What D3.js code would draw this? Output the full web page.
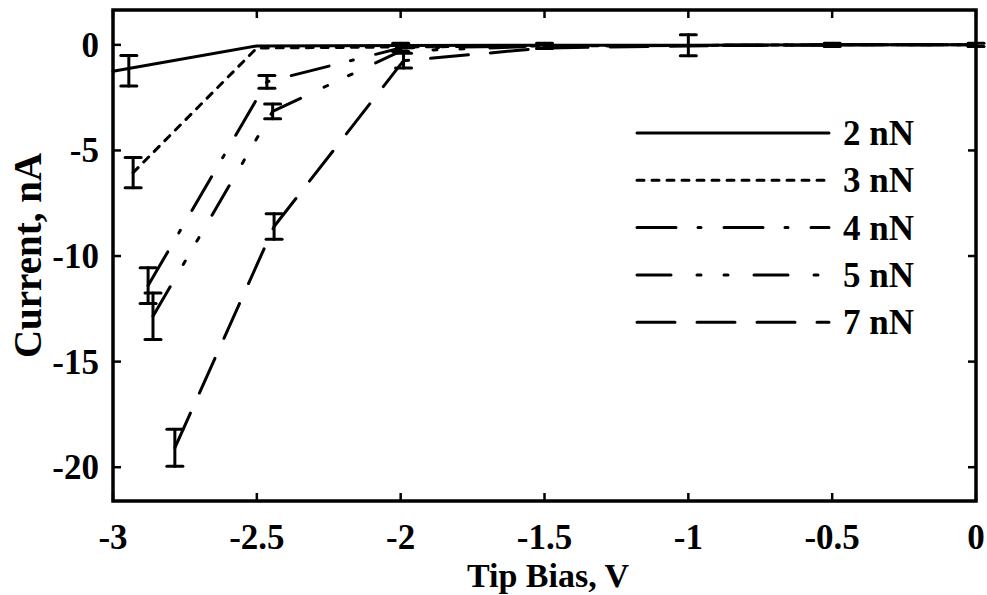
<!DOCTYPE html>
<html><head><meta charset="utf-8">
<script src="https://cdn.jsdelivr.net/npm/d3@7"></script>
<style>html,body{margin:0;padding:0;background:#fff;}svg{display:block;}</style>
</head><body>
<script>
// ---- data ----
const seriesNames = ["2 nN", "3 nN", "4 nN", "5 nN", "7 nN"];
const x2 = [-3.0, -2.5, -2.0, -1.5, -1.0, -0.5, 0.0];
const y2 = [-1.25, -0.05, -0.03, -0.02, -0.02, 0.0, 0.0];
const x3 = [-2.93, -2.5, -2.0, -1.5, -1.0, -0.5, 0.0];
const y3 = [-6.05, -0.15, -0.1, -0.05, -0.03, 0.0, 0.0];
const x4 = [-2.878, -2.465, -2.0, -1.5, -1.0, -0.5, 0.0];
const y4 = [-11.4, -1.75, -0.15, -0.05, -0.03, 0.0, 0.0];
const x5 = [-2.861, -2.445, -2.0, -1.5, -1.0, -0.5, 0.0];
const y5 = [-12.85, -3.15, -0.3, -0.05, -0.03, 0.0, 0.0];
const x7 = [-2.785, -2.44, -1.99, -1.5, -1.0, -0.5, 0.0];
const y7 = [-19.08, -8.6, -0.75, -0.15, -0.05, 0.0, 0.0];
// error bars: x, centre, half-height
const errX = [-2.945, -2.93, -2.878, -2.861, -2.785, -2.465, -2.445, -2.44, -2.0, -1.99, -1.5, -1.0, -0.5, 0.0];
const errY = [-1.23, -6.05, -11.4, -12.85, -19.08, -1.75, -3.15, -8.6, -0.12, -0.75, -0.05, -0.02, 0.0, 0.0];
const errE = [0.72, 0.72, 0.85, 1.1, 0.88, 0.3, 0.35, 0.6, 0.2, 0.35, 0.12, 0.5, 0.08, 0.08];
const xTicks = [-3, -2.5, -2, -1.5, -1, -0.5, 0];
const yTicks = [0, -5, -10, -15, -20];
const xTickLabels = ["-3", "-2.5", "-2", "-1.5", "-1", "-0.5", "0"];
const yTickLabels = ["0", "-5", "-10", "-15", "-20"];
const xTitle = "Tip Bias, V";
const yTitle = "Current, nA";

// ---- layout ----
const W = 987, H = 595;
const L = 113, R = 976, T = 10, B = 501;
const FONT = "'Liberation Serif', 'Times New Roman', serif";
const lw = 3;
const dashes = [null, "7,8", "39,22,3,23", "34,26,4,23,4,26", "38,22"];

const svg = d3.select("body").append("svg").attr("width", W).attr("height", H);
const x = d3.scaleLinear().domain([-3, 0]).range([L, R]);
const y = d3.scaleLinear().domain([-21.6, 1.65]).range([B, T]);

function addText(g, tx, ty, txt, size, anchor) {
  return g.append("text")
    .attr("x", tx).attr("y", ty)
    .attr("text-anchor", anchor)
    .style("font-family", FONT).style("font-weight", "bold")
    .style("font-size", size + "px").attr("fill", "#000")
    .text(txt);
}

// series lines
const lineGen = d3.line().x(d => x(d[0])).y(d => y(d[1]));
const xs = [x2, x3, x4, x5, x7], ys = [y2, y3, y4, y5, y7];
const plot = svg.append("g");
xs.forEach((xv, i) => {
  const pts = xv.map((v, j) => [v, ys[i][j]]);
  const p = plot.append("path").datum(pts).attr("d", lineGen)
    .attr("fill", "none").attr("stroke", "#000").attr("stroke-width", lw)
    .attr("stroke-linecap", "round").attr("stroke-linejoin", "round");
  if (dashes[i]) p.attr("stroke-dasharray", dashes[i]);
});

// error bars
const eb = plot.append("g").attr("stroke", "#000").attr("stroke-width", lw).attr("stroke-linecap", "round");
errX.forEach((xv, i) => {
  const cx = x(xv), y0 = y(errY[i] - errE[i]), y1 = y(errY[i] + errE[i]);
  eb.append("line").attr("x1", cx).attr("x2", cx).attr("y1", y0).attr("y2", y1);
  eb.append("line").attr("x1", cx - 8).attr("x2", cx + 8).attr("y1", y0).attr("y2", y0);
  eb.append("line").attr("x1", cx - 8).attr("x2", cx + 8).attr("y1", y1).attr("y2", y1);
});

// axes: frame + inward ticks on all sides
const ax = svg.append("g").attr("stroke", "#000");
const tl = 8;
xTicks.forEach(t => {
  ax.append("line").attr("x1", x(t)).attr("x2", x(t)).attr("y1", B).attr("y2", B - tl).attr("stroke-width", 2.5);
  ax.append("line").attr("x1", x(t)).attr("x2", x(t)).attr("y1", T).attr("y2", T + tl).attr("stroke-width", 2.5);
});
yTicks.forEach(t => {
  ax.append("line").attr("x1", L).attr("x2", L + tl).attr("y1", y(t)).attr("y2", y(t)).attr("stroke-width", 2.5);
  ax.append("line").attr("x1", R).attr("x2", R - tl).attr("y1", y(t)).attr("y2", y(t)).attr("stroke-width", 2.5);
});
ax.append("rect").attr("x", L).attr("y", T).attr("width", R - L).attr("height", B - T)
  .attr("fill", "none").attr("stroke-width", 3.5);

// tick labels
const lab = svg.append("g");
xTicks.forEach((t, i) => addText(lab, x(t), 549, xTickLabels[i], 35, "middle"));
yTicks.forEach((t, i) => addText(lab, 99, y(t) + 12, yTickLabels[i], 35, "end"));

// axis titles
addText(lab, 548, 587, xTitle, 34, "middle");
lab.append("text")
  .attr("transform", `translate(41,${(T + B) / 2}) rotate(-90)`)
  .attr("text-anchor", "middle")
  .style("font-family", FONT).style("font-weight", "bold").style("font-size", "39px")
  .text(yTitle);

// legend
const leg = svg.append("g");
const legY0 = 133, legDy = 47.3;
seriesNames.forEach((n, i) => {
  const yy = legY0 + i * legDy;
  const l = leg.append("line").attr("x1", 637).attr("x2", 829).attr("y1", yy).attr("y2", yy)
    .attr("stroke", "#000").attr("stroke-width", lw).attr("stroke-linecap", "round");
  if (dashes[i]) l.attr("stroke-dasharray", dashes[i]);
  addText(leg, 843, yy + 12, n, 35, "start");
});
</script>
</body></html>
